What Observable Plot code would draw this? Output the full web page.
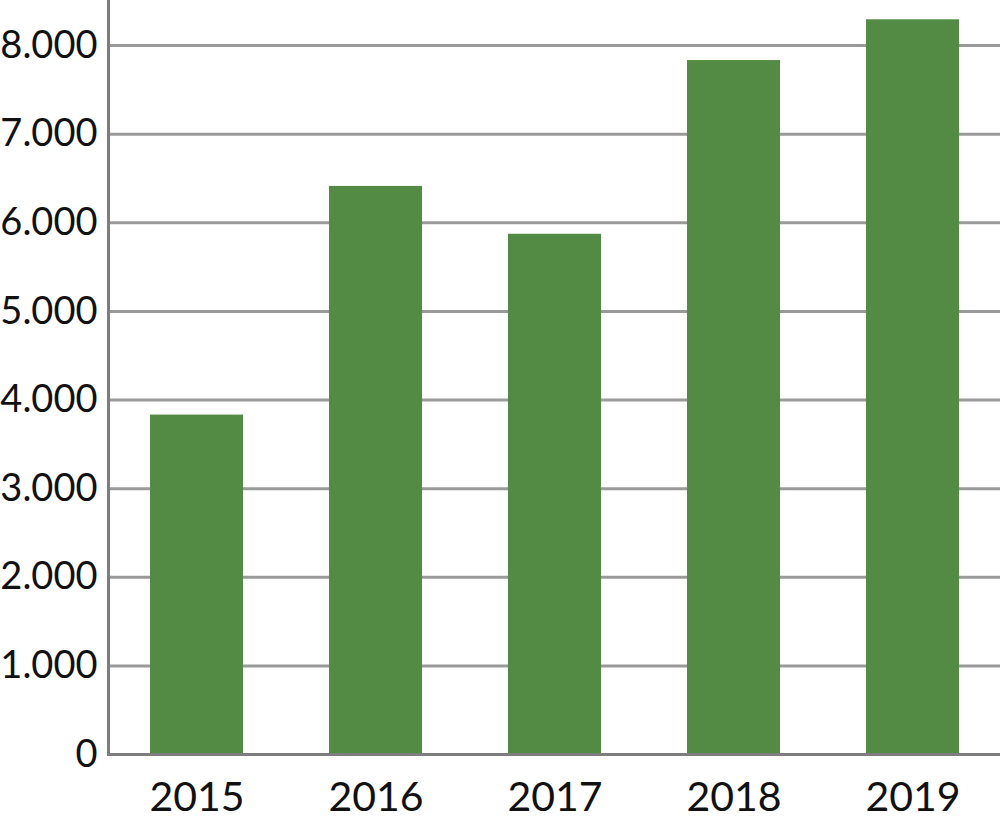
<!DOCTYPE html>
<html>
<head>
<meta charset="utf-8">
<script src="https://cdn.jsdelivr.net/npm/d3@7"></script>
<script src="https://cdn.jsdelivr.net/npm/@observablehq/plot@0.6"></script>
<style>
  html, body { margin: 0; padding: 0; background: #fff; }
  svg { display: block; overflow: hidden; }
</style>
</head>
<body>
<div id="chart"></div>
<script>
const years = ["2015", "2016", "2017", "2018", "2019"];
const values = [3830, 6410, 5870, 7830, 8290];
const yTicks = [0, 1000, 2000, 3000, 4000, 5000, 6000, 7000, 8000];

const data = years.map((y, i) => ({year: y, value: values[i]}));
const locale = d3.formatLocale({decimal: ",", thousands: ".", grouping: [3], currency: ["", ""]});
const fmt = locale.format(",d");

const chart = Plot.plot({
  width: 1000,
  height: 819,
  marginLeft: 108,
  marginRight: 0,
  marginTop: 0,
  marginBottom: 65,
  style: {fontFamily: "Lato, sans-serif", background: "#fff", color: "#111"},
  x: {domain: years, paddingInner: 0.483, paddingOuter: 0.22, label: null},
  y: {domain: [0, 8000 * 754 / 709], label: null},
  marks: [
    Plot.ruleY(yTicks.filter(d => d > 0), {stroke: "#9a9a9a", strokeWidth: 3}),
    Plot.barY(data, {x: "year", y: "value", fill: "#538a44"}),
    Plot.axisY(yTicks, {tickSize: 0, tickPadding: 11, tickFormat: fmt, fontSize: 38, fill: "#111"}),
    Plot.axisX({tickSize: 0, tickPadding: 27, fontSize: 41, fill: "#111"}),
    Plot.frame({anchor: "left", stroke: "#7d7d7d", strokeWidth: 3}),
    Plot.ruleY([0], {stroke: "#7d7d7d", strokeWidth: 3})
  ]
});
document.getElementById("chart").append(chart);
</script>
</body>
</html>
